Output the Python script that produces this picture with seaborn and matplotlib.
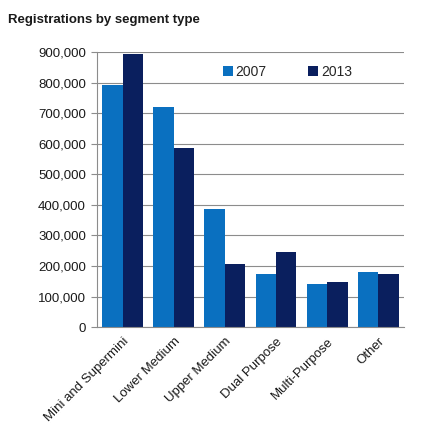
#!/usr/bin/env python3
"""Registrations by segment type, 2007 vs 2013."""
import matplotlib

matplotlib.use("Agg")
import matplotlib.pyplot as plt  # noqa: E402
import pandas as pd  # noqa: E402
import seaborn as sns  # noqa: E402
from matplotlib.ticker import FuncFormatter, FixedLocator  # noqa: E402

segments = ["Mini and Supermini", "Lower Medium", "Upper Medium",
            "Dual Purpose", "Multi-Purpose", "Other"]
years = ["2007", "2013"]
reg_2007 = [792_000, 721_000, 386_000, 173_000, 140_000, 180_000]
reg_2013 = [894_000, 587_000, 206_000, 246_000, 147_000, 173_000]
colors = {"2007": "#0A70C0", "2013": "#0A1F5E"}

df = pd.DataFrame({
    "segment": segments * 2,
    "year": ["2007"] * len(segments) + ["2013"] * len(segments),
    "registrations": reg_2007 + reg_2013,
})

sns.set_style("white")
plt.rcParams["font.family"] = ["Liberation Sans", "DejaVu Sans"]

fig = plt.figure(figsize=(4.22, 4.38), dpi=100)
ax = fig.add_axes([0.230, 0.253, 0.727, 0.628])
sns.barplot(data=df, x="segment", y="registrations", hue="year", hue_order=years,
            palette=colors, width=0.8, saturation=1, linewidth=0, ax=ax, legend=True)

ax.set_ylim(0, 900_000)
ax.set_yticks(range(0, 900_001, 100_000))
ax.yaxis.set_major_formatter(FuncFormatter(lambda v, _: f"{int(v):,}"))
ax.yaxis.grid(True, color="#8c8c8c", linewidth=0.8)
ax.set_axisbelow(True)
ax.set_xlim(-0.5, len(segments) - 0.5)
ax.set_xlabel("")
ax.set_ylabel("")

ax.set_xticks(range(len(segments)))
ax.set_xticklabels(segments, rotation=45, ha="right", rotation_mode="anchor",
                   fontsize=9.5, color="#1a1a1a")
ax.tick_params(axis="x", which="major", length=0, pad=6)
ax.xaxis.set_minor_locator(FixedLocator([i - 0.5 for i in range(len(segments) + 1)]))
ax.tick_params(axis="x", which="minor", length=4, color="#8c8c8c", direction="out")
ax.tick_params(axis="y", length=4, color="#8c8c8c", direction="out", labelsize=9.5,
               labelcolor="#1a1a1a", left=True, pad=4)

for side in ["top", "right"]:
    ax.spines[side].set_visible(False)
for side in ["left", "bottom"]:
    ax.spines[side].set_color("#8c8c8c")
    ax.spines[side].set_linewidth(0.8)

ax.legend(loc="upper left", bbox_to_anchor=(0.37, 1.0), ncol=2, frameon=False,
          fontsize=10, handlelength=0.7, handleheight=0.7, handletextpad=0.2,
          columnspacing=3.0)

fig.text(0.02, 0.955, "Registrations by segment type", fontsize=9.5,
         fontweight="bold", color="#1a1a1a", va="center")

fig.savefig("out.png", dpi=100)
plt.close(fig)
